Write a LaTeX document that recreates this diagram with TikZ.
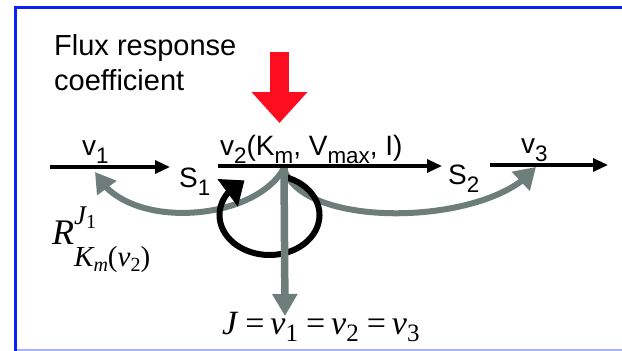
\documentclass[tikz,border=0pt]{standalone}
\usepackage{fontspec}
\setmainfont{Liberation Sans}
\newfontfamily\tms{Liberation Serif}
\usetikzlibrary{arrows.meta,bending}
\definecolor{frameblue}{RGB}{10,35,245}
\definecolor{lightblue}{RGB}{165,178,250}
\definecolor{arrowred}{RGB}{252,14,32}
\definecolor{slate}{RGB}{108,125,122}
\newcommand\dn[1]{\raisebox{-0.3em}{\scalebox{0.8}{#1}}}
\newcommand\fs[1]{\fontsize{#1}{#1}\selectfont}
\tikzset{
  lbl/.style={inner sep=0pt, font=\fs{28}},
  blackarrow/.style={draw=black, line width=3.2pt, -{Triangle[length=15pt,width=13pt]}},
  grayarc/.style={draw=slate, line width=6pt},
}
\begin{document}
\begin{tikzpicture}[x=1pt,y=-1pt]
\useasboundingbox (0,0) rectangle (622,351);
% frame
\draw[frameblue, line width=3pt] (15.5,351) -- (15.5,7) -- (622,7);
\draw[lightblue, line width=2pt] (17,350) -- (622,350);

% texts
\node[inner sep=0pt, anchor=north west, align=left, font=\fontsize{29}{35}\selectfont] (flux) at (54,34) {Flux response\\coefficient};
\node[lbl, anchor=base west] (v1lab) at (82,155) {v\dn{1}};
\node[lbl, anchor=base west] (S1) at (179,187) {S\dn{1}};
\node[lbl, anchor=base west] (v2lab) at (220,155) {v\dn{2}(K\dn{m}, V\dn{max}, I)};
\node[lbl, anchor=base west] (S2) at (448,184) {S\dn{2}};
\node[lbl, anchor=base west] (v3lab) at (521,153) {v\dn{3}};
\node[inner sep=0pt, anchor=base west] (R) at (52,244) {\tms\fs{36}\itshape R\rlap{\raisebox{20pt}{\fs{27}J\raisebox{-4pt}{\fs{20}\upshape 1}}}\raisebox{-22pt}{\fs{29}K\raisebox{-5pt}{\fs{20}m}\upshape(\itshape v\raisebox{-5pt}{\fs{20}\upshape 2}\upshape)}};
\node[inner sep=0pt, anchor=base west] (eq) at (222,334) {\tms\fs{34}\itshape J\hspace{8pt}\upshape=\hspace{6pt}\itshape v\raisebox{-7pt}{\fs{25}\upshape 1}\hspace{8pt}\upshape=\hspace{6pt}\itshape v\raisebox{-7pt}{\fs{25}\upshape 2}\hspace{8pt}\upshape=\hspace{6pt}\itshape v\raisebox{-7pt}{\fs{25}\upshape 3}};

% coordinates
\coordinate (a1) at (50,167);
\coordinate (a1e) at (170,167);
\coordinate (a2) at (218,166);
\coordinate (a2e) at (442,166);
\coordinate (a3) at (490,165);
\coordinate (a3e) at (608,165);
\coordinate (C) at (284,168);
\coordinate (tipL) at (95,172);
\coordinate (tipR) at (536,167);
\coordinate (tipJ) at (285,316);
\coordinate (O) at (269.5,215);
\coordinate (redtop) at (279.5,52);
\coordinate (redtip) at (279.5,123);

% red arrow
\draw[arrowred, line width=19pt, -{Triangle[length=31pt,width=54pt]}] (redtop) -- (redtip);

% gray arcs
\draw[grayarc, -{Triangle[length=20pt,width=23pt]}] (C) .. controls (255,222) and (125,232) .. (tipL);
\draw[grayarc, -{Triangle[length=21pt,width=25pt]}] (C) .. controls (300,230) and (490,227) .. (tipR);

% black circular arrow
\draw[black, line width=6pt, -{Triangle[length=21pt,width=33pt]}] (O) ++(-72:50 and 40) arc[start angle=-72, end angle=240, x radius=50, y radius=40];

% gray vertical arrow
\draw[slate, line width=7.5pt, -{Triangle[length=22pt,width=24pt]}] (C) -- (tipJ);

% black horizontal arrows
\draw[blackarrow] (a1) -- (a1e);
\draw[blackarrow] (a2) -- (a2e);
\draw[blackarrow] (a3) -- (a3e);
\end{tikzpicture}
\end{document}
